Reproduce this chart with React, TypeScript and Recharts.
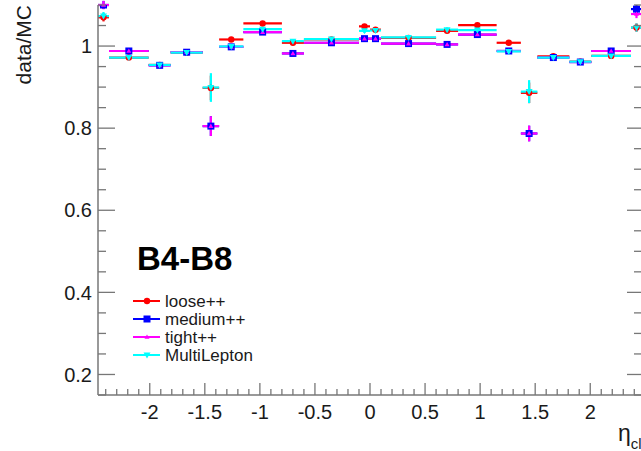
import { ScatterChart, Scatter, XAxis, YAxis, ErrorBar } from 'recharts';

// eta_cl bin edges (low / high)
const etaLow = [-2.47, -2.37, -2.01, -1.81, -1.52, -1.37, -1.15, -0.8, -0.6, -0.1, 0, 0.1, 0.6, 0.8, 1.15, 1.37, 1.52, 1.81, 2.01, 2.37];
const etaHigh = [-2.37, -2.01, -1.81, -1.52, -1.37, -1.15, -0.8, -0.6, -0.1, 0, 0.1, 0.6, 0.8, 1.15, 1.37, 1.52, 1.81, 2.01, 2.37, 2.47];

// data/MC per bin
const looseVals = [1.07, 0.972, 0.954, 0.984, 0.898, 1.016, 1.055, 1.008, 1.016, 1.048, 1.04, 1.02, 1.037, 1.051, 1.008, 0.886, 0.975, 0.962, 0.976, 1.045];
const mediumVals = [1.1, 0.988, 0.953, 0.985, 0.805, 0.998, 1.034, 0.982, 1.008, 1.018, 1.018, 1.006, 1.004, 1.028, 0.988, 0.787, 0.972, 0.961, 0.988, 1.09];
const tightVals = [1.1, 0.988, 0.953, 0.985, 0.805, 0.998, 1.034, 0.982, 1.008, 1.018, 1.018, 1.006, 1.004, 1.028, 0.988, 0.787, 0.972, 0.961, 0.988, 1.078];
const multiVals = [1.073, 0.972, 0.954, 0.984, 0.899, 0.999, 1.041, 1.012, 1.017, 1.037, 1.038, 1.021, 1.04, 1.039, 0.987, 0.889, 0.972, 0.962, 0.976, 1.045];

// statistical errors
const looseErr = [0.01, 0.004, 0.005, 0.005, 0.03, 0.005, 0.004, 0.005, 0.003, 0.005, 0.005, 0.003, 0.005, 0.004, 0.005, 0.025, 0.005, 0.005, 0.004, 0.01];
const mediumErr = [0.01, 0.004, 0.005, 0.005, 0.024, 0.005, 0.004, 0.005, 0.003, 0.005, 0.005, 0.003, 0.005, 0.004, 0.005, 0.019, 0.005, 0.005, 0.004, 0.01];
const tightErr = [0.01, 0.004, 0.005, 0.005, 0.024, 0.005, 0.004, 0.005, 0.003, 0.005, 0.005, 0.003, 0.005, 0.004, 0.005, 0.019, 0.005, 0.005, 0.004, 0.01];
const multiErr = [0.01, 0.004, 0.005, 0.005, 0.035, 0.005, 0.004, 0.005, 0.003, 0.005, 0.005, 0.003, 0.005, 0.004, 0.005, 0.028, 0.005, 0.005, 0.004, 0.01];

const X_MAJOR = [-2, -1.5, -1, -0.5, 0, 0.5, 1, 1.5, 2];
const Y_MAJOR = [0.2, 0.4, 0.6, 0.8, 1];

const FONT = '"Liberation Sans", Arial, Helvetica, sans-serif';
const AXIS = '#777';
const TXT = '#1a1a1a';

const xTicks: number[] = [];
for (let i = -24; i <= 24; i++) xTicks.push(Math.round(i) / 10);
const yTicks: number[] = [];
for (let i = 3; i <= 22; i++) yTicks.push(Math.round(i * 5) / 100);

const isMajor = (v: number, list: number[]) => list.some((m) => Math.abs(m - v) < 1e-6);

const toPoints = (vals: number[], errs: number[]) =>
  vals.map((v, i) => ({
    eta: (etaLow[i] + etaHigh[i]) / 2,
    ratio: v,
    ex: (etaHigh[i] - etaLow[i]) / 2,
    ey: errs[i],
  }));

const looseData = toPoints(looseVals, looseErr);
const mediumData = toPoints(mediumVals, mediumErr);
const tightData = toPoints(tightVals, tightErr);
const multiData = toPoints(multiVals, multiErr);

const BottomTick = (p: any) => {
  const v = p.payload.value;
  const major = isMajor(v, X_MAJOR);
  return (
    <g>
      <line x1={p.x} x2={p.x} y1={p.y} y2={p.y - (major ? 12 : 6)} stroke={AXIS} strokeWidth={1.3} />
      {major && (
        <text x={p.x} y={p.y + 24} textAnchor="middle" fontSize={20} fontFamily={FONT} fill={TXT}>
          {String(v)}
        </text>
      )}
    </g>
  );
};

const TopTick = (p: any) => {
  const major = isMajor(p.payload.value, X_MAJOR);
  return <line x1={p.x} x2={p.x} y1={p.y} y2={p.y + (major ? 12 : 6)} stroke={AXIS} strokeWidth={1.3} />;
};

const LeftTick = (p: any) => {
  const v = p.payload.value;
  const major = isMajor(v, Y_MAJOR);
  return (
    <g>
      <line x1={p.x} x2={p.x + (major ? 17 : 8)} y1={p.y} y2={p.y} stroke={AXIS} strokeWidth={1.3} />
      {major && (
        <text x={p.x - 6} y={p.y} dy="0.36em" textAnchor="end" fontSize={20} fontFamily={FONT} fill={TXT}>
          {String(v)}
        </text>
      )}
    </g>
  );
};

const RightTick = (p: any) => {
  const major = isMajor(p.payload.value, Y_MAJOR);
  return <line x1={p.x} x2={p.x - (major ? 15 : 8)} y1={p.y} y2={p.y} stroke={AXIS} strokeWidth={1.3} />;
};

const Circle = (p: any) => <circle cx={p.cx} cy={p.cy} r={3.2} fill="#ff0000" />;
const Square = (p: any) => <rect x={p.cx - 3.5} y={p.cy - 3.5} width={7} height={7} fill="#0000ff" />;
const TriUp = (p: any) => (
  <path d={`M${p.cx - 2.5},${p.cy + 1.8} L${p.cx + 2.5},${p.cy + 1.8} L${p.cx},${p.cy - 2.5} Z`} fill="#ff00ff" />
);
const TriDown = (p: any) => (
  <path d={`M${p.cx - 3.5},${p.cy - 2.5} L${p.cx + 3.5},${p.cy - 2.5} L${p.cx},${p.cy + 3.5} Z`} fill="#00ffff" />
);

const legendRows = [
  { label: 'loose++', color: '#ff0000', Shape: Circle },
  { label: 'medium++', color: '#0000ff', Shape: Square },
  { label: 'tight++', color: '#ff00ff', Shape: TriUp },
  { label: 'MultiLepton', color: '#00ffff', Shape: TriDown },
];

export default function App() {
  return (
    <div style={{ position: 'absolute', left: 0, top: 0, width: 641, height: 451, overflow: 'hidden', background: '#fff' }}>
      <ScatterChart width={680} height={451} margin={{ top: 5, right: 28, bottom: 0, left: 0 }}>
        <XAxis
          xAxisId="b"
          dataKey="eta"
          type="number"
          domain={[-2.47, 2.47]}
          allowDataOverflow
          ticks={xTicks}
          interval={0}
          height={56}
          tickSize={0}
          tickMargin={0}
          tickLine={false}
          axisLine={{ stroke: AXIS, strokeWidth: 1.5 }}
          tick={(p: any) => <BottomTick {...p} />}
        />
        <XAxis
          xAxisId="t"
          orientation="top"
          type="number"
          domain={[-2.47, 2.47]}
          allowDataOverflow
          ticks={xTicks}
          interval={0}
          height={0}
          tickSize={0}
          tickMargin={0}
          tickLine={false}
          axisLine={{ stroke: AXIS, strokeWidth: 1.5 }}
          tick={(p: any) => <TopTick {...p} />}
        />
        <YAxis
          yAxisId="l"
          dataKey="ratio"
          type="number"
          domain={[0.15, 1.1]}
          allowDataOverflow
          ticks={yTicks}
          interval={0}
          width={98}
          tickSize={0}
          tickMargin={0}
          tickLine={false}
          axisLine={{ stroke: AXIS, strokeWidth: 1.5 }}
          tick={(p: any) => <LeftTick {...p} />}
        />
        <YAxis
          yAxisId="r"
          orientation="right"
          type="number"
          domain={[0.15, 1.1]}
          allowDataOverflow
          ticks={yTicks}
          interval={0}
          width={10}
          tickSize={0}
          tickMargin={0}
          tickLine={false}
          axisLine={{ stroke: AXIS, strokeWidth: 1.5 }}
          tick={(p: any) => <RightTick {...p} />}
        />

        <Scatter xAxisId="b" yAxisId="l" data={looseData} shape={Circle} isAnimationActive={false}>
          <ErrorBar dataKey="ex" direction="x" width={0} stroke="#ff0000" strokeWidth={2.2} isAnimationActive={false} />
          <ErrorBar dataKey="ey" direction="y" width={0} stroke="#ff0000" strokeWidth={2.2} isAnimationActive={false} />
        </Scatter>
        <Scatter xAxisId="b" yAxisId="l" data={mediumData} shape={Square} isAnimationActive={false}>
          <ErrorBar dataKey="ex" direction="x" width={0} stroke="#0000ff" strokeWidth={2.2} isAnimationActive={false} />
          <ErrorBar dataKey="ey" direction="y" width={0} stroke="#0000ff" strokeWidth={2.2} isAnimationActive={false} />
        </Scatter>
        <Scatter xAxisId="b" yAxisId="l" data={tightData} shape={TriUp} isAnimationActive={false}>
          <ErrorBar dataKey="ex" direction="x" width={0} stroke="#ff00ff" strokeWidth={2.2} isAnimationActive={false} />
          <ErrorBar dataKey="ey" direction="y" width={0} stroke="#ff00ff" strokeWidth={2.2} isAnimationActive={false} />
        </Scatter>
        <Scatter xAxisId="b" yAxisId="l" data={multiData} shape={TriDown} isAnimationActive={false}>
          <ErrorBar dataKey="ex" direction="x" width={0} stroke="#00ffff" strokeWidth={2.2} isAnimationActive={false} />
          <ErrorBar dataKey="ey" direction="y" width={0} stroke="#00ffff" strokeWidth={2.2} isAnimationActive={false} />
        </Scatter>

        <text
          x={31}
          y={5}
          transform="rotate(-90, 31, 5)"
          textAnchor="end"
          fontSize={21}
          fontFamily={FONT}
          fill={TXT}
        >
          data/MC
        </text>
        <text x={618} y={441} fontSize={23} fontFamily={FONT} fill={TXT}>
          η
          <tspan fontSize={15} dy={8}>cl</tspan>
        </text>
        <text x={137} y={270} fontSize={33} fontWeight="bold" fontFamily={FONT} fill="#000">
          B4-B8
        </text>
        {legendRows.map((r, i) => {
          const y = 301 + i * 18;
          return (
            <g key={r.label}>
              <line x1={133} x2={160} y1={y} y2={y} stroke={r.color} strokeWidth={2} />
              <r.Shape cx={147} cy={y} />
              <text x={165} y={y} dy="0.36em" fontSize={17} fontFamily={FONT} fill={TXT}>
                {r.label}
              </text>
            </g>
          );
        })}
      </ScatterChart>
    </div>
  );
}
